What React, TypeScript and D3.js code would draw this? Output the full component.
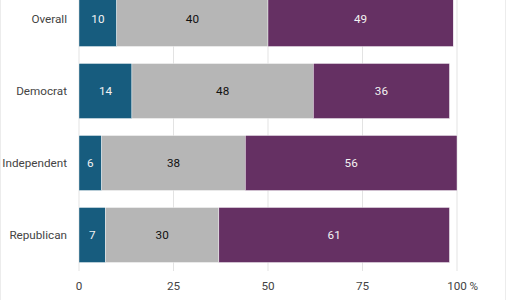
import React from "react";
import * as d3 from "d3";

const categories = ["Overall", "Democrat", "Independent", "Republican"];
const seriesNames = ["a", "b", "c"];
const seriesA = [10, 14, 6, 7];
const seriesB = [40, 48, 38, 30];
const seriesC = [49, 36, 56, 61];
const ticks = [0, 25, 50, 75, 100];

const colors = ["#175c7e", "#b6b6b6", "#653063"];
const textColors = ["#f2f2f2", "#111111", "#f2f2f2"];

export default function App() {
  const W = 506, H = 300;
  const x = d3.scaleLinear().domain([0, 100]).range([79, 457]);
  const y = d3.scaleBand().domain(categories).range([-17, 271]).paddingInner(0.236).paddingOuter(0.118);
  const rows = categories.map((c, i) => ({ cat: c, a: seriesA[i], b: seriesB[i], c: seriesC[i] }));
  const stack = d3.stack<any>().keys(seriesNames)(rows);
  const font = "Roboto, 'Noto Sans', sans-serif";
  return (
    <svg width={W} height={H} style={{ position: "absolute", left: 0, top: 0, background: "#fff" }} fontFamily={font}>
      <line x1={0.5} x2={0.5} y1={0} y2={H} stroke="#ececec" />
      <line x1={W - 0.5} x2={W - 0.5} y1={0} y2={H} stroke="#ececec" />
      {ticks.map(t => (
        <line key={t} x1={x(t)} x2={x(t)} y1={0} y2={271} stroke="#e3e3e3" strokeWidth={1} />
      ))}
      {stack.map((s, si) => (
        <g key={si}>
          {s.map((d, i) => {
            const x0 = x(d[0]), x1 = x(d[1]);
            const yy = y(categories[i])!;
            const v = d[1] - d[0];
            return (
              <g key={i}>
                <rect x={x0} y={yy} width={x1 - x0} height={y.bandwidth()} fill={colors[si]} stroke="#fff" strokeWidth={0.4} />
                <text x={(x0 + x1) / 2} y={yy + y.bandwidth() / 2} dy="0.35em" textAnchor="middle" fontSize={11.7} fill={textColors[si]}>{v}</text>
              </g>
            );
          })}
        </g>
      ))}
      {categories.map(c => (
        <text key={c} x={67} y={y(c)! + y.bandwidth() / 2} dy="0.35em" textAnchor="end" fontSize={11.7} fill="#444">{c}</text>
      ))}
      {ticks.map(t => (
        <text key={t} x={x(t)} y={286} dy="0.35em" textAnchor="middle" fontSize={11.7} fill="#444">{t}</text>
      ))}
      <text x={x(100) + 12.5} y={286} dy="0.35em" textAnchor="start" fontSize={11.7} fill="#444">%</text>
    </svg>
  );
}
